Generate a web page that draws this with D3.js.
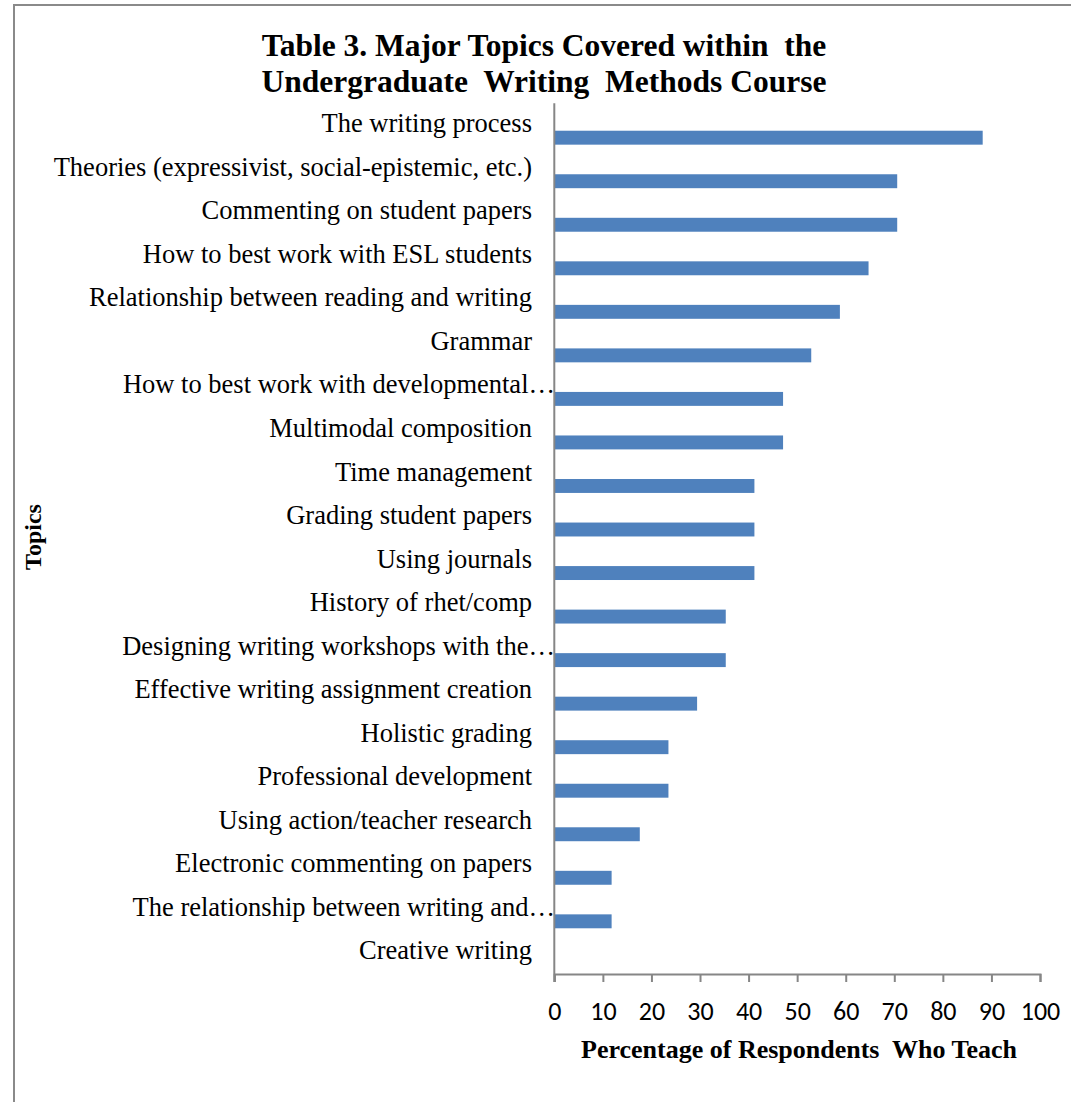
<!DOCTYPE html>
<html>
<head>
<meta charset="utf-8">
<script src="https://cdn.jsdelivr.net/npm/d3@7"></script>
<style>
  html, body { margin: 0; padding: 0; background: #fff; }
  svg text { white-space: pre; }
</style>
</head>
<body>
<svg id="chart" width="1071" height="1102"></svg>
<script>
const categories = [
  "The writing process",
  "Theories (expressivist, social-epistemic, etc.)",
  "Commenting on student papers",
  "How to best work with ESL students",
  "Relationship between reading and writing",
  "Grammar",
  "How to best work with developmental\u2026",
  "Multimodal composition",
  "Time management",
  "Grading student papers",
  "Using journals",
  "History of rhet/comp",
  "Designing writing workshops with the\u2026",
  "Effective writing assignment creation",
  "Holistic grading",
  "Professional development",
  "Using action/teacher research",
  "Electronic commenting on papers",
  "The relationship between writing and\u2026",
  "Creative writing"
];
const values = [88.2, 70.6, 70.6, 64.7, 58.8, 52.9, 47.1, 47.1, 41.2, 41.2, 41.2, 35.3, 35.3, 29.4, 23.5, 23.5, 17.6, 11.8, 11.8, 0];
const xTicks = [0, 10, 20, 30, 40, 50, 60, 70, 80, 90, 100];
const titleLines = ["Table 3. Major Topics Covered within  the", "Undergraduate  Writing  Methods Course"];
const xTitle = "Percentage of Respondents  Who Teach";
const yTitle = "Topics";

const svg = d3.select("#chart");
const serif = "'Liberation Serif', 'Times New Roman', serif";
const sans = "Carlito, 'Liberation Sans', Arial, sans-serif";

// outer border (top + left visible)
svg.append("rect").attr("x", 14).attr("y", 5).attr("width", 1100).attr("height", 1200)
  .attr("fill", "none").attr("stroke", "#8a8a8a").attr("stroke-width", 2);

const plot = { left: 554.3, right: 1040, top: 103.3, bottom: 974 };

const x = d3.scaleLinear().domain([0, 100]).range([plot.left, plot.right]);
const y = d3.scaleBand().domain(categories).range([plot.top, plot.bottom]).padding(0);
const bw = y.bandwidth();

// bars
svg.append("g").selectAll("rect").data(categories).join("rect")
  .attr("x", x(0))
  .attr("y", d => y(d) + bw * 0.63)
  .attr("width", (d, i) => x(values[i]) - x(0))
  .attr("height", bw * 0.32)
  .attr("fill", "#4F81BD");

// x axis
const xAxis = d3.axisBottom(x).tickValues(xTicks).tickSize(8).tickPadding(20).tickFormat(d3.format("d"));
const gx = svg.append("g").attr("transform", `translate(0,${plot.bottom})`).call(xAxis);
gx.select(".domain").attr("stroke", "#868686").attr("stroke-width", 2);
gx.selectAll(".tick line").attr("stroke", "#868686").attr("stroke-width", 2);
gx.selectAll(".tick text").attr("font-family", sans).attr("font-size", 26).attr("fill", "#000");

// y axis line
svg.append("line").attr("x1", plot.left).attr("x2", plot.left)
  .attr("y1", plot.top).attr("y2", plot.bottom + 8)
  .attr("stroke", "#868686").attr("stroke-width", 2);

// category labels
svg.append("g").selectAll("text").data(categories).join("text")
  .attr("x", d => d.endsWith("\u2026") ? 555 : 532)
  .attr("y", d => y(d) + bw / 2)
  .attr("dy", "0.27em")
  .attr("text-anchor", "end")
  .attr("font-family", serif)
  .attr("font-size", 26.5)
  .attr("fill", "#000")
  .text(d => d);

// title
svg.append("g").selectAll("text").data(titleLines).join("text")
  .attr("x", 544)
  .attr("y", (d, i) => 56 + i * 36)
  .attr("text-anchor", "middle")
  .attr("font-family", serif)
  .attr("font-weight", "bold")
  .attr("font-size", 31.5)
  .attr("fill", "#000")
  .text(d => d);

// x title
svg.append("text").attr("x", 799).attr("y", 1058)
  .attr("text-anchor", "middle")
  .attr("font-family", serif).attr("font-weight", "bold").attr("font-size", 26)
  .attr("fill", "#000").text(xTitle);

// y title
svg.append("text").attr("transform", "translate(41,537) rotate(-90)")
  .attr("text-anchor", "middle")
  .attr("font-family", serif).attr("font-weight", "bold").attr("font-size", 24)
  .attr("fill", "#000").text(yTitle);
</script>
</body>
</html>
